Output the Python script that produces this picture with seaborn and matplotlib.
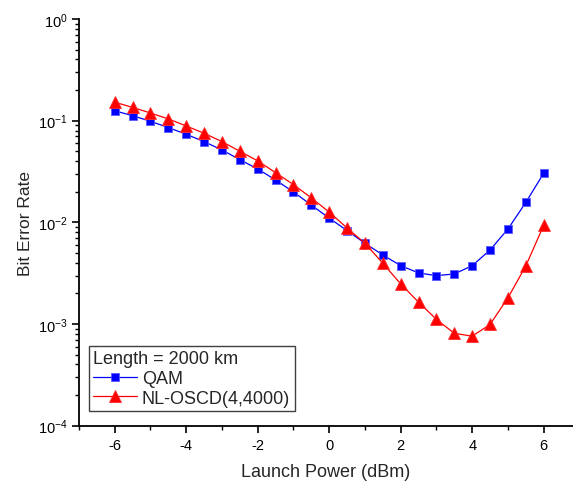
import numpy as np
import pandas as pd
import matplotlib
matplotlib.use("Agg")
import matplotlib.pyplot as plt
from matplotlib.ticker import LogLocator, FixedLocator, NullFormatter
import seaborn as sns

sns.set_theme(style="ticks")
plt.rcParams['font.family'] = ['Liberation Sans', 'DejaVu Sans']
plt.rcParams['mathtext.fontset'] = 'custom'
plt.rcParams['mathtext.rm'] = 'Liberation Sans'
plt.rcParams['mathtext.it'] = 'Liberation Sans:italic'
plt.rcParams['axes.unicode_minus'] = False

power = [-6, -5.5, -5, -4.5, -4, -3.5, -3, -2.5, -2, -1.5, -1, -0.5, 0,
         0.5, 1, 1.5, 2, 2.5, 3, 3.5, 4, 4.5, 5, 5.5, 6]
ber_qam = [0.125, 0.112, 0.0986, 0.0855, 0.0735, 0.0622, 0.0515, 0.0414, 0.0335,
           0.0261, 0.0199, 0.0148, 0.0110, 0.0083, 0.00622, 0.00478, 0.00375,
           0.00318, 0.00299, 0.00311, 0.00375, 0.00535, 0.0086, 0.0157, 0.0304]
ber_nl = [0.152, 0.135, 0.119, 0.104, 0.0887, 0.0752, 0.0622, 0.0500, 0.0402,
          0.0308, 0.0235, 0.0174, 0.0126, 0.0088, 0.00622, 0.00396, 0.00248,
          0.00164, 0.00111, 0.00081, 0.00076, 0.00099, 0.00181, 0.00373, 0.00936]
series_names = ["QAM", "NL-OSCD(4,4000)"]
legend_title = "Length = 2000 km"

df_qam = pd.DataFrame({"power": power, "ber": ber_qam})
df_nl = pd.DataFrame({"power": power, "ber": ber_nl})

W, H = 573, 485
fig = plt.figure(figsize=(W / 100, H / 100), dpi=100)
ax = fig.add_axes([79 / W, (H - 426.7) / H, (W - 79) / W, (426.7 - 20) / H])

sns.lineplot(data=df_qam, x="power", y="ber", ax=ax, color="#0000ff", lw=0.9,
             marker="s", markersize=6, markeredgecolor="#5a5aff", markeredgewidth=0.6,
             label=series_names[0])
sns.lineplot(data=df_nl, x="power", y="ber", ax=ax, color="#ff0000", lw=0.9,
             marker="^", markersize=8.5, markeredgecolor="#ff3030", markeredgewidth=0.6,
             label=series_names[1])

ax.set_yscale("log")
ax.set_ylim(1e-4, 1)
ax.set_xlim(-7, 6.82)

ax.xaxis.set_major_locator(FixedLocator([-6, -4, -2, 0, 2, 4, 6]))
ax.xaxis.set_minor_locator(FixedLocator([-7, -5, -3, -1, 1, 3, 5]))
ax.yaxis.set_major_locator(LogLocator(base=10, numticks=10))
ax.yaxis.set_minor_locator(LogLocator(base=10, subs=np.arange(2, 10), numticks=20))
ax.yaxis.set_minor_formatter(NullFormatter())

for s in ["top", "right"]:
    ax.spines[s].set_visible(False)
for s in ["left", "bottom"]:
    ax.spines[s].set_linewidth(1.3)
    ax.spines[s].set_color("black")

ax.tick_params(axis="x", which="major", direction="out", length=5, width=1.2,
               labelsize=10.5, colors="black", pad=4)
ax.tick_params(axis="y", which="major", direction="out", length=5, width=1.2,
               labelsize=10.5, colors="black", pad=3)
ax.tick_params(axis="both", which="minor", direction="out", length=3, width=1.0,
               colors="black")

ax.set_xlabel("Launch Power (dBm)", fontsize=13, labelpad=8)
ax.set_ylabel("Bit Error Rate", fontsize=12.5, labelpad=4)
ax.grid(False)

leg = ax.legend(title=legend_title, loc="lower left", bbox_to_anchor=(0.0196, 0.036),
                borderaxespad=0, fontsize=13, title_fontsize=13, fancybox=False,
                edgecolor="#404040", framealpha=1, handlelength=2.4,
                handletextpad=0.3, borderpad=0.25, labelspacing=0.14,
                alignment="left")
leg.get_frame().set_linewidth(1.0)

fig.savefig("out.png", dpi=100)
